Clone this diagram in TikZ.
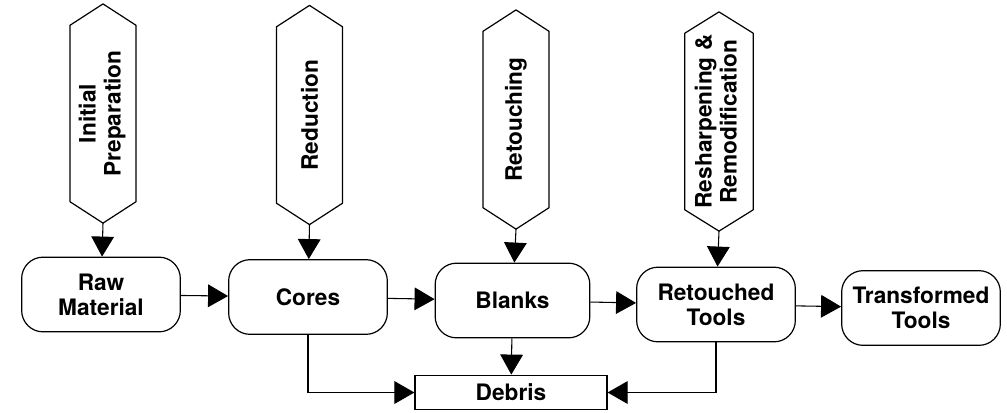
\documentclass[tikz,border=0pt]{standalone}
\usepackage{fontspec}
\setmainfont{TeX Gyre Heros}
\usepackage{graphicx}
\usetikzlibrary{arrows.meta}
\tikzset{
  lbl/.style={font=\bfseries\fontsize{17}{18.75}\selectfont, align=center},
  proc/.style={lbl, draw, line width=0.9pt, rounded corners=16pt,
    minimum width=119pt, minimum height=56pt, inner sep=0pt},
  sink/.style={lbl, draw, line width=0.9pt, minimum width=144pt,
    minimum height=26pt, inner sep=0pt},
  hexbody/.style={lbl, minimum width=49pt, minimum height=132pt, inner sep=0pt},
  hexline/.style={draw, line width=0.9pt, line join=round},
  conn/.style={line width=0.8pt, -{Triangle[length=15pt,width=17pt]}}
}
\newcommand\hexoutline[1]{%
  \draw[hexline] (#1.north west) -- ([yshift=16pt]#1.north) -- (#1.north east)
    -- (#1.south east) -- ([yshift=-16pt]#1.south) -- (#1.south west) -- cycle;
  \coordinate (#1tip) at ([yshift=-16pt]#1.south);}
\begin{document}
\begin{tikzpicture}[x=0.75pt,y=-0.75pt]
\useasboundingbox (0,0) rectangle (1007,412);
% activity hexagons
\node[hexbody] (h1) at (103,113.5) {\rotatebox{90}{\begin{tabular}{@{}c@{}}Initial\\Preparation\end{tabular}}};
\node[hexbody] (h2) at (309.5,115) {\rotatebox{90}{Reduction}};
\node[hexbody] (h3) at (516,119.5) {\rotatebox{90}{Retouching}};
\node[hexbody, minimum width=51pt] (h4) at (719,121.5) {\rotatebox{90}{\begin{tabular}{@{}c@{}}Resharpening \&\\Remodification\end{tabular}}};
\hexoutline{h1}
\hexoutline{h2}
\hexoutline{h3}
\hexoutline{h4}
% stages
\node[proc] (raw) at (101,294.5) {Raw\\Material};
\node[proc] (cores) at (308,297) {Cores};
\node[proc, minimum width=116pt] (blanks) at (512.5,300.5) {Blanks};
\node[proc] (ret) at (716,304.5) {Retouched\\Tools};
\node[proc] (trans) at (921,308) {Transformed\\Tools};
\node[sink] (debris) at (511,392.5) {Debris};
% connectors
\draw[conn] (h1tip) -- (raw);
\draw[conn] (h2tip) -- (cores);
\draw[conn] (h3tip) -- (blanks);
\draw[conn] (h4tip) -- (ret);
\draw[conn] (raw) -- (cores);
\draw[conn] (cores) -- (blanks);
\draw[conn] (blanks) -- (ret);
\draw[conn] (ret) -- (trans);
\draw[conn] (cores.south) |- (debris.west);
\draw[conn] (blanks) -- (debris);
\draw[conn] (ret.south) |- (debris.east);
\end{tikzpicture}
\end{document}
